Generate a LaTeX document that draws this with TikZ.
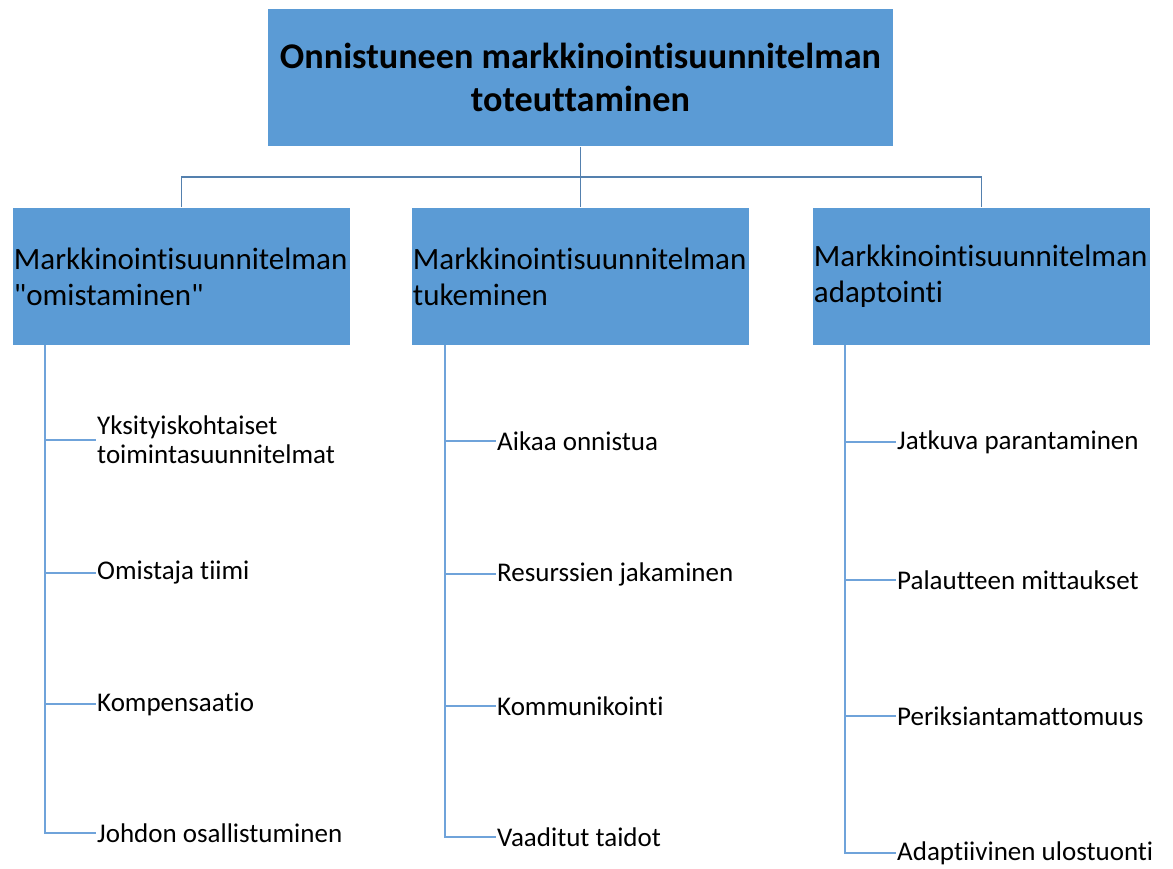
\documentclass[tikz,border=0pt]{standalone}
\usepackage{fontspec}
\setmainfont{Carlito}[Ligatures={NoCommon,TeXOff}]
\definecolor{boxblue}{HTML}{5B9BD5}
\definecolor{busline}{HTML}{5480AE}
\definecolor{leafline}{HTML}{6FA3DA}
\begin{document}
\begin{tikzpicture}[x=1pt,y=-1pt,
  topbox/.style={fill=boxblue, draw=white, line width=0.8pt, anchor=north west,
    minimum width=626pt, minimum height=138pt, inner sep=0pt, align=center,
    font=\fontsize{36.2}{43}\selectfont\bfseries},
  midbox/.style={fill=boxblue, draw=white, line width=0.8pt, anchor=north west,
    minimum width=338pt, minimum height=138pt, text width=335pt, inner xsep=1.5pt,
    inner ysep=0pt, align=left, font=\fontsize{31}{36}\selectfont},
  leaf/.style={anchor=west, inner sep=1pt, align=left,
    font=\fontsize{27}{29}\selectfont},
  busedge/.style={draw=busline, line width=1.6pt},
  leafedge/.style={draw=leafline, line width=1.6pt}
]
\useasboundingbox (0,0) rectangle (1173,868);

% top level
\node[topbox] (top) at (267,8) {Onnistuneen markkinointisuunnitelman\\toteuttaminen};

% second level
\node[midbox] (c1) at (12,207)  {Markkinointisuunnitelman\\"omistaminen"};
\node[midbox] (c2) at (411,207) {Markkinointisuunnitelman\\tukeminen};
\node[midbox] (c3) at (812,207) {Markkinointisuunnitelman\\adaptointi};

% connectors between levels
\coordinate (bus) at (0,177);
\draw[busedge] (top.south) -- (c2.north);
\draw[busedge] (c1.north) -- (c1.north |- bus) -- (c3.north |- bus) -- (c3.north);

% leaves
\node[leaf] (l11) at (96,440) {Yksityiskohtaiset\\toimintasuunnitelmat};
\node[leaf] (l12) at (96,573) {Omistaja tiimi};
\node[leaf] (l13) at (96,704) {Kompensaatio};
\node[leaf] (l14) at (96,833) {Johdon osallistuminen};

\node[leaf] (l21) at (496,441) {Aikaa onnistua};
\node[leaf] (l22) at (496,574) {Resurssien jakaminen};
\node[leaf] (l23) at (496,706) {Kommunikointi};
\node[leaf] (l24) at (496,837) {Vaaditut taidot};

\node[leaf] (l31) at (896,442) {Jatkuva parantaminen};
\node[leaf] (l32) at (896,580) {Palautteen mittaukset};
\node[leaf] (l33) at (896,716) {Periksiantamattomuus};
\node[leaf] (l34) at (896,853) {Adaptiivinen ulostuonti};

% leaf trunks
\coordinate (t1) at (45,345);
\coordinate (t2) at (445,345);
\coordinate (t3) at (845,345);
\draw[leafedge] (t1) |- (l14.west);
\draw[leafedge] (t2) |- (l24.west);
\draw[leafedge] (t3) |- (l34.west);
\foreach \t/\a/\b/\c in {t1/l11/l12/l13, t2/l21/l22/l23, t3/l31/l32/l33}{
  \draw[leafedge] (\a.west -| \t) -- (\a.west);
  \draw[leafedge] (\b.west -| \t) -- (\b.west);
  \draw[leafedge] (\c.west -| \t) -- (\c.west);
}
\end{tikzpicture}
\end{document}
